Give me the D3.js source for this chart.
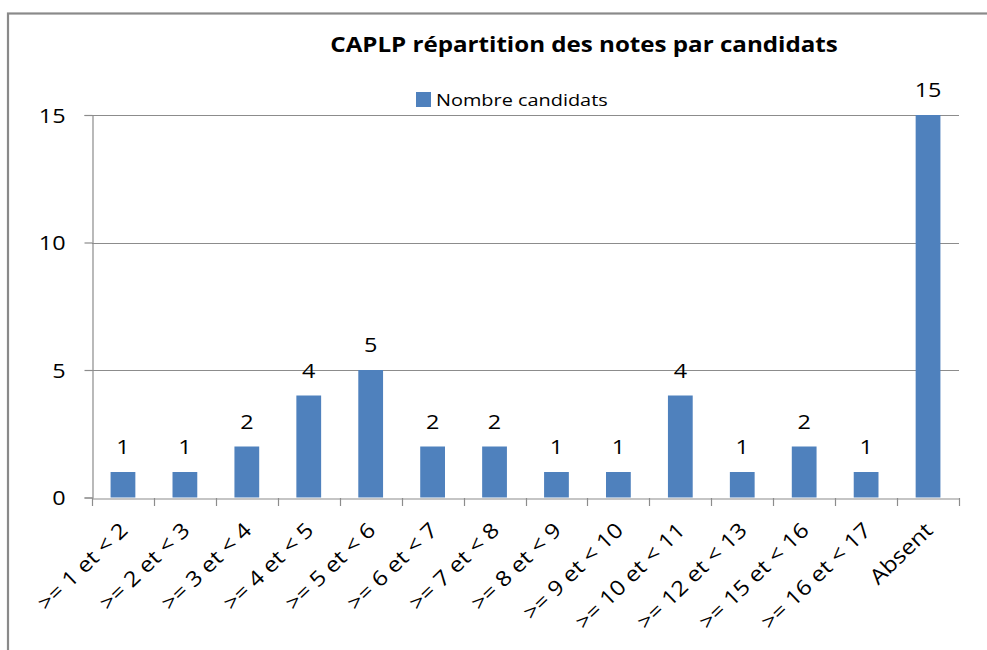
<!DOCTYPE html>
<html>
<head>
<meta charset="utf-8">
<script src="https://cdn.jsdelivr.net/npm/d3@7"></script>
<style>
  html, body { margin: 0; padding: 0; background: #fff; }
  svg { display: block; }
  text { font-family: "Open Sans", "Liberation Sans", sans-serif; fill: #000; }
</style>
</head>
<body>
<svg id="chart" width="987" height="650"></svg>
<script>
const categories = [">= 1 et < 2", ">= 2 et < 3", ">= 3 et < 4", ">= 4 et < 5", ">= 5 et < 6",
  ">= 6 et < 7", ">= 7 et < 8", ">= 8 et < 9", ">= 9 et < 10", ">= 10 et < 11",
  ">= 12 et < 13", ">= 15 et < 16", ">= 16 et < 17", "Absent"];
const values = [1, 1, 2, 4, 5, 2, 2, 1, 1, 4, 1, 2, 1, 15];
const yTicks = [0, 5, 10, 15];
const seriesName = "Nombre candidats";
const title = "CAPLP répartition des notes par candidats";

const svg = d3.select("#chart");
const plot = { left: 92, right: 959, top: 115, bottom: 497.5 };
const barColor = "#4F81BD";
const gridColor = "#8c8c8c";
const SX = 1.17; // horizontal stretch of the reference's text

// outer border
svg.append("rect")
  .attr("x", 8).attr("y", 13.5)
  .attr("width", 1100).attr("height", 800)
  .attr("fill", "none").attr("stroke", "#8a8a8a").attr("stroke-width", 2.2);

const x = d3.scaleBand().domain(categories).range([plot.left, plot.right]).padding(0);
const y = d3.scaleLinear().domain([0, 15]).range([plot.bottom, plot.top]);

// gridlines
svg.append("g").selectAll("line").data(yTicks.filter(d => d > 0)).join("line")
  .attr("x1", plot.left).attr("x2", plot.right)
  .attr("y1", d => Math.round(y(d)) + 0.5).attr("y2", d => Math.round(y(d)) + 0.5)
  .attr("stroke", gridColor).attr("stroke-width", 1.2);

// y axis (line + ticks via d3 axis, labels placed stretched)
const yAxis = d3.axisLeft(y).tickValues(yTicks).tickSize(8).tickFormat("");
const gy = svg.append("g").attr("transform", `translate(${plot.left + 0.5},0)`).call(yAxis);
gy.select(".domain").attr("stroke", gridColor).attr("stroke-width", 1.2);
gy.selectAll(".tick line").attr("stroke", gridColor).attr("stroke-width", 1.2);
gy.selectAll(".tick").append("text")
  .attr("transform", `translate(-27,0) scale(${SX},1)`)
  .attr("x", 0).attr("dy", "0.36em")
  .attr("text-anchor", "end")
  .attr("font-size", 20)
  .attr("fill", "#000")
  .text(d => d3.format("d")(d));

// bars
const barFrac = 0.4;
svg.append("g").selectAll("rect").data(values).join("rect")
  .attr("x", (d, i) => x(categories[i]) + x.bandwidth() * (1 - barFrac) / 2)
  .attr("width", x.bandwidth() * barFrac)
  .attr("y", d => y(d))
  .attr("height", d => y(0) - y(d))
  .attr("fill", barColor);

// value labels
svg.append("g").selectAll("text").data(values).join("text")
  .attr("transform", (d, i) => `translate(${x(categories[i]) + x.bandwidth() / 2},${y(d) - 18}) scale(${SX},1)`)
  .attr("text-anchor", "middle")
  .attr("font-size", 20)
  .text(d => d);

// x axis
const xAxis = d3.axisBottom(x).tickSize(0).tickFormat("");
const gx = svg.append("g").attr("transform", `translate(0,${Math.round(plot.bottom) + 0.5})`).call(xAxis);
gx.select(".domain").attr("stroke", gridColor).attr("stroke-width", 1.2);
const bounds = categories.map(c => x(c)).concat([x(categories[categories.length - 1]) + x.bandwidth()]);
svg.append("g").selectAll("line").data(bounds).join("line")
  .attr("x1", d => Math.round(d) + 0.5).attr("x2", d => Math.round(d) + 0.5)
  .attr("y1", Math.round(plot.bottom)).attr("y2", Math.round(plot.bottom) + 8)
  .attr("stroke", gridColor).attr("stroke-width", 1.2);

// x labels rotated
svg.append("g").selectAll("text").data(categories).join("text")
  .attr("transform", c => `translate(${x(c) + x.bandwidth() / 2 + 1},${plot.bottom + 29}) rotate(-44) scale(1.14,1)`)
  .attr("text-anchor", "end")
  .attr("dy", "0.35em")
  .attr("font-size", 21)
  .text(c => c);

// title
svg.append("text")
  .attr("transform", `translate(584,52) scale(1.15,1)`)
  .attr("text-anchor", "middle")
  .attr("font-size", 21).attr("font-weight", "bold")
  .text(title);

// legend
const lg = svg.append("g").attr("transform", "translate(416,92)");
lg.append("rect").attr("width", 15).attr("height", 15).attr("fill", barColor);
lg.append("text").attr("transform", `translate(20,14) scale(${SX},1)`).attr("font-size", 17).text(seriesName);
</script>
</body>
</html>
